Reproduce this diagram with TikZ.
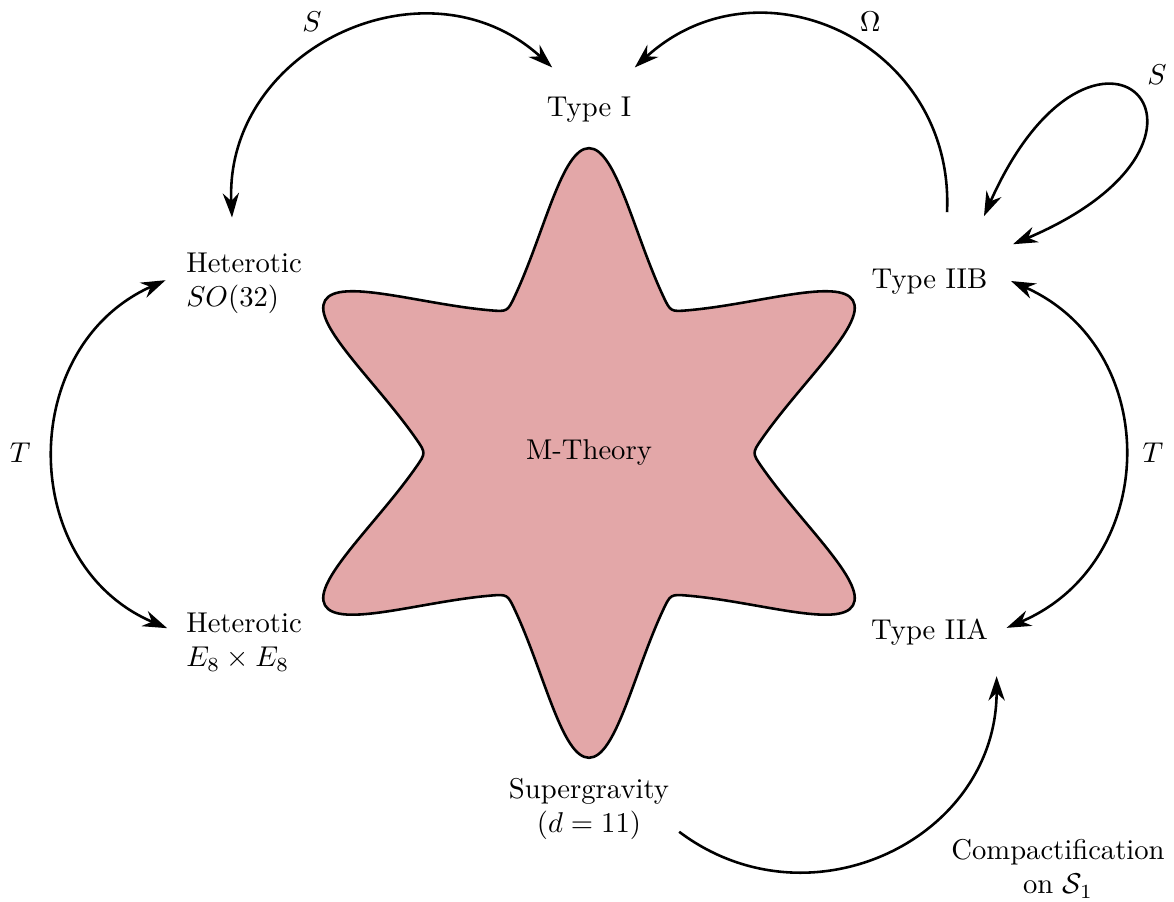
\documentclass[tikz,border=0pt]{standalone}
\usetikzlibrary{positioning,arrows.meta,calc}
\definecolor{mfill}{HTML}{E3A7A8}
\tikzset{
  theory/.style={align=center},
  hetbox/.style={align=left},
  dual/.style={{Stealth[length=3mm,width=2mm]}-{Stealth[length=3mm,width=2mm]}, line width=0.9pt},
  oneway/.style={-{Stealth[length=3mm,width=2mm]}, line width=0.9pt},
  lbl/.style={inner sep=1pt},
}
\begin{document}
\begin{tikzpicture}
  \useasboundingbox (-7.227,-5.509) rectangle (7.178,5.558);

  % ------------------------------------------------ the star
  \filldraw[fill=mfill, draw=black, line width=0.9pt, line join=round]
    ($(60:2.0)+(115:0.22)$)
    \foreach \t in {90,150,210,270,330,390} {
      .. controls +({\t+25}:0.85) and +({\t-90}:0.33) .. (\t:3.74)
      .. controls +({\t+90}:0.33) and +({\t-25}:0.85) .. ($(\t+30:2.0)+(\t-25:0.22)$)
      .. controls (\t+30:2.0) .. ($(\t+30:2.0)+(\t+85:0.22)$)
    } -- cycle;
  \node (mth) at (0,0) {M-Theory};

  % ------------------------------------------------ the theories
  \node[theory] (tI) at (0,4.21) {Type I};
  \node[hetbox] (het) at (-4.233,2.08) {Heterotic\\ $SO(32)$};
  \node[hetbox] (e8) at (-4.233,-2.32) {Heterotic\\ $E_8\times E_8$};
  \node[theory] (IIB) at (4.178,2.098) {Type IIB};
  \node[theory] (IIA) at (4.178,-2.196) {Type IIA};
  \node[theory] (sugra) at (0,-4.368) {Supergravity\\ $(d=11)$};
  \node[theory] (comp) at (5.755,-5.10) {Compactification\\ on $\mathcal{S}_1$};

  % ------------------------------------------------ dualities
  \draw[dual] ([shift={(-0.147,0.31)}]het.north) .. controls +(92.7:2.08) and +(137.5:2.08) .. ([shift={(0.19,0.24)}]tI.north west);
  \draw[oneway] ([shift={(0.215,0.576)}]IIB.north) .. controls +(87.3:2.08) and +(42.5:2.08) .. ([shift={(-0.08,0.24)}]tI.north east);
  \draw[dual] ([shift={(-0.166,0.527)}]IIB.north east) .. controls +(66:3.35) and +(23:3.35) .. ([shift={(0.19,0.183)}]IIB.north east);
  \draw[dual] ([shift={(0.166,0.012)}]IIB.east) .. controls +(-24:2.05) and +(23:2.05) .. ([shift={(0.104,0.05)}]IIA.east);
  \draw[dual] ([shift={(-0.13,0.04)}]het.west) .. controls +(204:2.0) and +(157:2.0) .. ([shift={(-0.11,0.17)}]e8.west);
  \draw[oneway] ([shift={(0,-0.28)}]sugra.east) .. controls +(-37:2.0) and +(-90:2.0) .. ([shift={(-0.018,-0.257)}]IIA.south east);

  \node[lbl] (sHet) at (-3.40,5.29) {$S$};
  \node[lbl] (om) at (3.45,5.29) {$\Omega$};
  \node[lbl] (sIIB) at (6.97,4.64) {$S$};
  \node[lbl] (tR) at (6.92,0) {$T$};
  \node[lbl] (tL) at (-6.98,0) {$T$};
\end{tikzpicture}
\end{document}
